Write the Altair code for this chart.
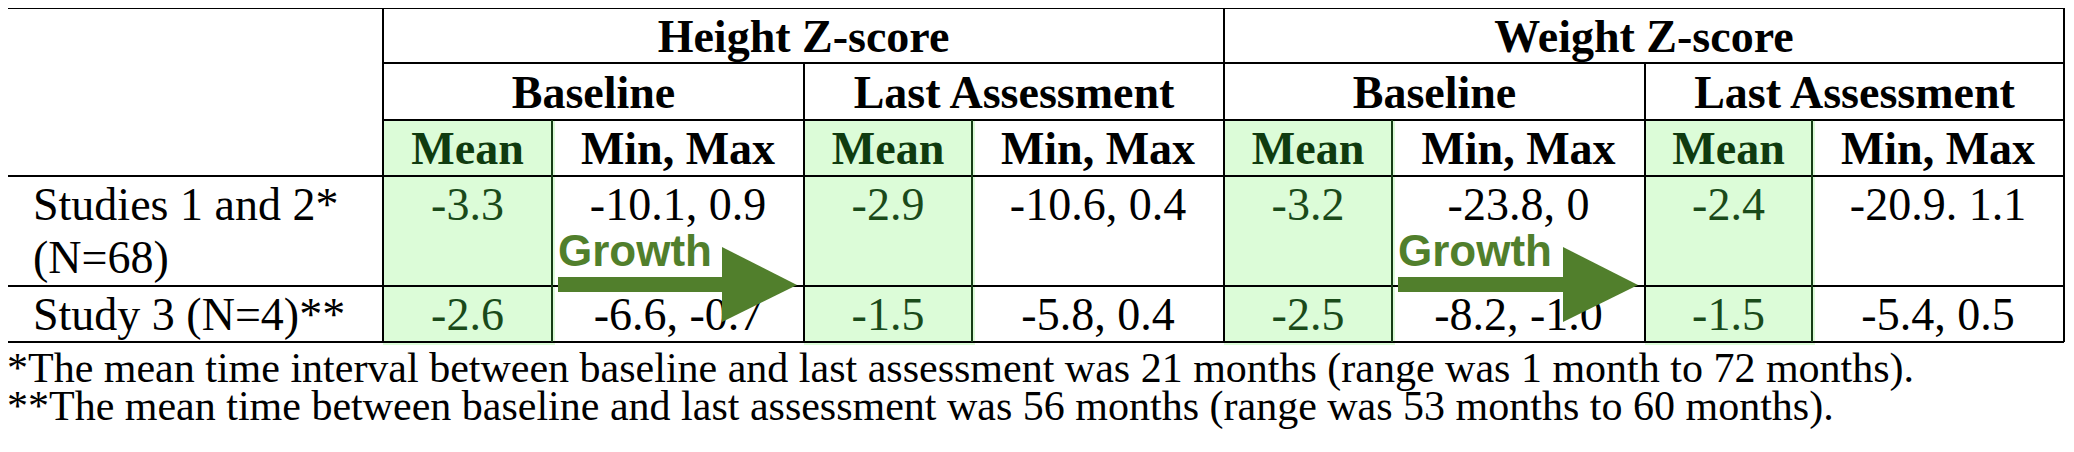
import altair as alt
import pandas as pd

# ---------------- data ----------------
measures = ["Height Z-score", "Weight Z-score"]
timepoints = ["Baseline", "Last Assessment"]
stat_headers = ["Mean", "Min, Max"]
row_labels = [["Studies 1 and 2*", "(N=68)"], ["Study 3 (N=4)**"]]
mean_row1 = [-3.3, -2.9, -3.2, -2.4]
mean_row2 = [-2.6, -1.5, -2.5, -1.5]
minmax_row1 = ["-10.1, 0.9", "-10.6, 0.4", "-23.8, 0", "-20.9. 1.1"]
minmax_row2 = ["-6.6, -0.7", "-5.8, 0.4", "-8.2, -1.0", "-5.4, 0.5"]
arrow_label = "Growth"
footnotes = [
    "*The mean time interval between baseline and last assessment was 21 months (range was 1 month to 72 months).",
    "**The mean time between baseline and last assessment was 56 months (range was 53 months to 60 months).",
]

# ---------------- layout (page pixels) ----------------
col_edges = [7, 383, 552, 804, 972, 1224, 1392, 1645, 1812, 2064]
row_edges = [8, 63, 120, 176, 286, 342]
hdr_base = [52, 108, 164]
body_base = [[220, 273], [330]]
foot_base = [382, 420]

SERIF = "Liberation Serif"
SANS = "Liberation Sans"
BLACK = "#000000"
GREEN_TXT = "#0f3b0f"
GREEN_VAL = "#1a4a1a"
GREEN_FILL = "#dcfcd8"
GREEN_LINE = "#173d17"
ARROW = "#517f2c"

W, H = 2058, 436
xs = alt.Scale(domain=[8, 8 + W], nice=False, zero=False)
ys = alt.Scale(domain=[8, 8 + H], nice=False, zero=False, reverse=True)


def mid(a, b):
    return (a + b) / 2.0


bold_black, bold_green = [], []
for i, m in enumerate(measures):
    bold_black.append({"x": mid(col_edges[1 + 4 * i], col_edges[5 + 4 * i]), "y": hdr_base[0], "t": m})
for g in range(4):
    bold_black.append({"x": mid(col_edges[1 + 2 * g], col_edges[3 + 2 * g]), "y": hdr_base[1],
                       "t": timepoints[g % 2]})
for c in range(8):
    rec = {"x": mid(col_edges[1 + c], col_edges[2 + c]), "y": hdr_base[2], "t": stat_headers[c % 2]}
    (bold_green if c % 2 == 0 else bold_black).append(rec)

mean_txt, body_txt = [], []
for r, (means, mm) in enumerate([(mean_row1, minmax_row1), (mean_row2, minmax_row2)]):
    yb = body_base[r][0]
    for g in range(4):
        mean_txt.append({"x": mid(col_edges[1 + 2 * g], col_edges[2 + 2 * g]), "y": yb, "t": f"{means[g]:.1f}"})
        body_txt.append({"x": mid(col_edges[2 + 2 * g], col_edges[3 + 2 * g]), "y": yb, "t": mm[g]})

label_txt = []
for r, lines in enumerate(row_labels):
    for k, line in enumerate(lines):
        label_txt.append({"x": 33, "y": body_base[r][k], "t": line})

foot_txt = [{"x": 7, "y": foot_base[i], "t": f} for i, f in enumerate(footnotes)]

fills = []
for g in range(4):
    fills.append({"x": col_edges[1 + 2 * g], "x2": col_edges[2 + 2 * g] + 3,
                  "y": row_edges[2], "y2": row_edges[5] + 3})

black_lines = [
    {"x": col_edges[0], "x2": col_edges[-1], "y": row_edges[0], "y2": row_edges[0]},
    {"x": col_edges[0], "x2": col_edges[-1], "y": row_edges[5], "y2": row_edges[5]},
    {"x": col_edges[1], "x2": col_edges[-1], "y": row_edges[1], "y2": row_edges[1]},
    {"x": col_edges[1], "x2": col_edges[-1], "y": row_edges[2], "y2": row_edges[2]},
    {"x": col_edges[0], "x2": col_edges[-1], "y": row_edges[3], "y2": row_edges[3]},
    {"x": col_edges[0], "x2": col_edges[-1], "y": row_edges[4], "y2": row_edges[4]},
]
for xe in [col_edges[0], col_edges[1], col_edges[5], col_edges[9]]:
    black_lines.append({"x": xe, "x2": xe, "y": row_edges[0], "y2": row_edges[5]})
for xe in [col_edges[3], col_edges[7]]:
    black_lines.append({"x": xe, "x2": xe, "y": row_edges[1], "y2": row_edges[5]})
green_lines = []
for xe in [col_edges[2], col_edges[4], col_edges[6], col_edges[8]]:
    green_lines.append({"x": xe, "x2": xe, "y": row_edges[2], "y2": row_edges[5]})

growth_txt, shafts, heads = [], [], []
for n, g in enumerate([0, 2]):
    left = col_edges[2 + 2 * g] + 6
    tip = col_edges[3 + 2 * g] - 7
    hs = tip - 75
    growth_txt.append({"x": left, "y": 266, "t": arrow_label})
    shafts.append({"x": left, "x2": hs + 1, "y": 277, "y2": 292})
    heads.append({"a": n, "x": hs, "y": 247, "y2": 322})
    heads.append({"a": n, "x": tip, "y": 285, "y2": 285})


def pos():
    return dict(x=alt.X("x:Q", scale=xs, axis=None), y=alt.Y("y:Q", scale=ys, axis=None))


def text_layer(rows, font, size, weight, color, align="center"):
    return alt.Chart(pd.DataFrame(rows)).mark_text(
        font=font, fontSize=size, fontWeight=weight, color=color, align=align, baseline="alphabetic"
    ).encode(**pos(), text="t:N")


fill_layer = alt.Chart(pd.DataFrame(fills)).mark_rect(color=GREEN_FILL).encode(
    **pos(), x2="x2:Q", y2="y2:Q")
black_rule = alt.Chart(pd.DataFrame(black_lines)).mark_rule(color=BLACK, strokeWidth=2).encode(
    **pos(), x2="x2:Q", y2="y2:Q")
green_rule = alt.Chart(pd.DataFrame(green_lines)).mark_rule(color=GREEN_LINE, strokeWidth=2).encode(
    **pos(), x2="x2:Q", y2="y2:Q")
shaft_layer = alt.Chart(pd.DataFrame(shafts)).mark_rect(color=ARROW).encode(
    **pos(), x2="x2:Q", y2="y2:Q")
head_layer = alt.Chart(pd.DataFrame(heads)).mark_area(color=ARROW, opacity=1).encode(
    **pos(), y2="y2:Q", detail="a:N")

chart = alt.layer(
    fill_layer,
    black_rule,
    green_rule,
    text_layer(bold_black, SERIF, 46, "bold", BLACK),
    text_layer(bold_green, SERIF, 46, "bold", GREEN_TXT),
    text_layer(mean_txt, SERIF, 46, "normal", GREEN_VAL),
    text_layer(body_txt, SERIF, 46, "normal", BLACK),
    text_layer(label_txt, SERIF, 46, "normal", BLACK, align="left"),
    text_layer(foot_txt, SERIF, 42, "normal", BLACK, align="left"),
    text_layer(growth_txt, SANS, 44, "bold", ARROW, align="left"),
    shaft_layer,
    head_layer,
).properties(
    width=W, height=H, autosize=alt.AutoSizeParams(type="none"), padding=0, background="white"
).configure_view(stroke=None)

chart.save("out.html", embed_options={"renderer": "svg", "actions": False})
